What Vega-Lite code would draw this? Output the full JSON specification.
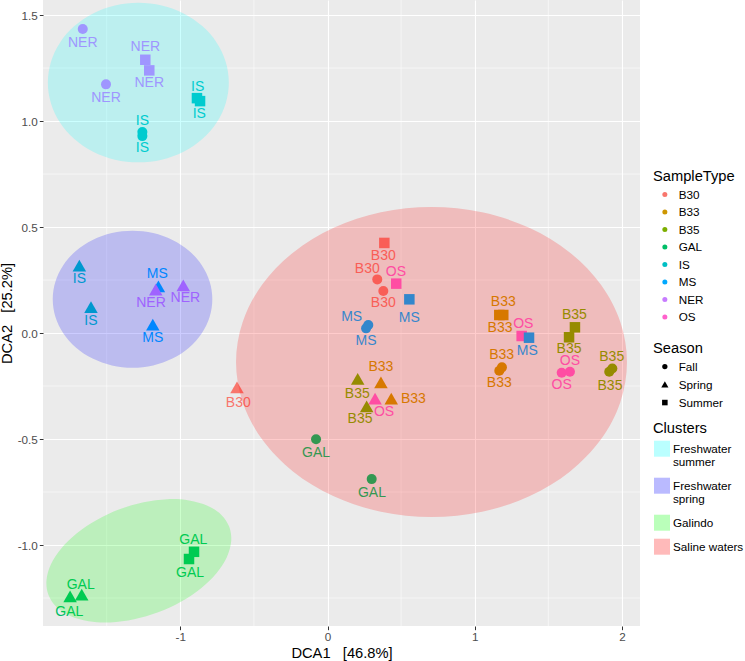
{
  "$schema": "https://vega.github.io/schema/vega-lite/v6.json",
  "width": 597,
  "height": 626,
  "autosize": {"type": "none"},
  "padding": {"left": 43, "top": 0, "right": 105, "bottom": 35},
  "background": "white",
  "config": {
    "font": "Liberation Sans",
    "view": {"fill": "#EBEBEB", "stroke": null},
    "axis": {
      "grid": true, "gridColor": "white", "gridWidth": 1.1, "domain": false,
      "tickColor": "#333333", "tickSize": 3.7, "tickWidth": 1,
      "labelColor": "#4D4D4D", "labelFontSize": 11.7, "labelPadding": 2,
      "titleFontSize": 14.7, "titleFontWeight": "normal", "titleColor": "black"
    },
    "legend": {
      "orient": "none", "padding": 0,
      "titleFontSize": 14.7, "titleFontWeight": "normal", "titleColor": "black", "titlePadding": 5,
      "labelFontSize": 11.7, "labelColor": "black", "rowPadding": 4.5
    }
  },
  "datasets": {
    "samples": [
      {"type": "NER", "season": "Fall", "x": -1.663, "y": 1.434, "lx": -1.663, "ly": 1.369},
      {"type": "NER", "season": "Fall", "x": -1.505, "y": 1.173, "lx": -1.505, "ly": 1.110},
      {"type": "NER", "season": "Summer", "x": -1.238, "y": 1.289, "lx": -1.238, "ly": 1.348},
      {"type": "NER", "season": "Summer", "x": -1.211, "y": 1.239, "lx": -1.211, "ly": 1.178},
      {"type": "IS", "season": "Summer", "x": -0.887, "y": 1.108, "lx": -0.882, "ly": 1.162},
      {"type": "IS", "season": "Summer", "x": -0.866, "y": 1.094, "lx": -0.871, "ly": 1.032},
      {"type": "IS", "season": "Fall", "x": -1.258, "y": 0.948, "lx": -1.258, "ly": 1.001},
      {"type": "IS", "season": "Fall", "x": -1.258, "y": 0.929, "lx": -1.258, "ly": 0.874},
      {"type": "IS", "season": "Spring", "x": -1.686, "y": 0.316, "lx": -1.686, "ly": 0.253},
      {"type": "IS", "season": "Spring", "x": -1.607, "y": 0.121, "lx": -1.607, "ly": 0.057},
      {"type": "MS", "season": "Spring", "x": -1.149, "y": 0.218, "lx": -1.156, "ly": 0.277},
      {"type": "NER", "season": "Spring", "x": -1.167, "y": 0.203, "lx": -1.199, "ly": 0.140},
      {"type": "NER", "season": "Spring", "x": -0.980, "y": 0.223, "lx": -0.966, "ly": 0.164},
      {"type": "MS", "season": "Spring", "x": -1.187, "y": 0.038, "lx": -1.187, "ly": -0.022},
      {"type": "B30", "season": "Summer", "x": 0.386, "y": 0.425, "lx": 0.379, "ly": 0.363},
      {"type": "B30", "season": "Fall", "x": 0.338, "y": 0.253, "lx": 0.270, "ly": 0.302},
      {"type": "B30", "season": "Fall", "x": 0.379, "y": 0.198, "lx": 0.379, "ly": 0.143},
      {"type": "OS", "season": "Summer", "x": 0.467, "y": 0.233, "lx": 0.465, "ly": 0.289},
      {"type": "MS", "season": "Summer", "x": 0.556, "y": 0.159, "lx": 0.556, "ly": 0.072},
      {"type": "MS", "season": "Fall", "x": 0.277, "y": 0.038, "lx": 0.164, "ly": 0.074},
      {"type": "MS", "season": "Fall", "x": 0.262, "y": 0.022, "lx": 0.262, "ly": -0.036},
      {"type": "B35", "season": "Spring", "x": 0.205, "y": -0.218, "lx": 0.202, "ly": -0.288},
      {"type": "B33", "season": "Spring", "x": 0.363, "y": -0.234, "lx": 0.363, "ly": -0.162},
      {"type": "OS", "season": "Spring", "x": 0.323, "y": -0.311, "lx": 0.384, "ly": -0.374},
      {"type": "B33", "season": "Spring", "x": 0.433, "y": -0.311, "lx": 0.583, "ly": -0.311},
      {"type": "B35", "season": "Spring", "x": 0.266, "y": -0.348, "lx": 0.221, "ly": -0.407},
      {"type": "GAL", "season": "Fall", "x": -0.078, "y": -0.501, "lx": -0.078, "ly": -0.565},
      {"type": "GAL", "season": "Fall", "x": 0.300, "y": -0.689, "lx": 0.302, "ly": -0.755},
      {"type": "B30", "season": "Spring", "x": -0.615, "y": -0.258, "lx": -0.606, "ly": -0.329},
      {"type": "B33", "season": "Summer", "x": 1.167, "y": 0.085, "lx": 1.172, "ly": 0.022},
      {"type": "B33", "season": "Summer", "x": 1.194, "y": 0.085, "lx": 1.194, "ly": 0.145},
      {"type": "OS", "season": "Summer", "x": 1.319, "y": -0.014, "lx": 1.330, "ly": 0.042},
      {"type": "MS", "season": "Summer", "x": 1.369, "y": -0.022, "lx": 1.357, "ly": -0.083},
      {"type": "B35", "season": "Summer", "x": 1.681, "y": 0.027, "lx": 1.677, "ly": 0.085},
      {"type": "B35", "season": "Summer", "x": 1.641, "y": -0.020, "lx": 1.641, "ly": -0.077},
      {"type": "OS", "season": "Fall", "x": 1.591, "y": -0.187, "lx": 1.591, "ly": -0.245},
      {"type": "OS", "season": "Fall", "x": 1.647, "y": -0.183, "lx": 1.647, "ly": -0.131},
      {"type": "B35", "season": "Fall", "x": 1.914, "y": -0.183, "lx": 1.919, "ly": -0.250},
      {"type": "B35", "season": "Fall", "x": 1.935, "y": -0.167, "lx": 1.931, "ly": -0.112},
      {"type": "B33", "season": "Fall", "x": 1.167, "y": -0.178, "lx": 1.167, "ly": -0.237},
      {"type": "B33", "season": "Fall", "x": 1.185, "y": -0.162, "lx": 1.183, "ly": -0.104},
      {"type": "GAL", "season": "Summer", "x": -0.907, "y": -1.032, "lx": -0.912, "ly": -0.976},
      {"type": "GAL", "season": "Summer", "x": -0.941, "y": -1.066, "lx": -0.934, "ly": -1.133},
      {"type": "GAL", "season": "Spring", "x": -1.749, "y": -1.244, "lx": -1.754, "ly": -1.315},
      {"type": "GAL", "season": "Spring", "x": -1.670, "y": -1.236, "lx": -1.677, "ly": -1.189}
    ],
    "ellipses": [
      {"cluster": "Freshwater summer", "i": 0, "x": -0.6705, "y": 1.1816},
      {"cluster": "Freshwater summer", "i": 1, "x": -0.6915, "y": 1.2790},
      {"cluster": "Freshwater summer", "i": 2, "x": -0.7529, "y": 1.3698},
      {"cluster": "Freshwater summer", "i": 3, "x": -0.8506, "y": 1.4478},
      {"cluster": "Freshwater summer", "i": 4, "x": -0.9779, "y": 1.5076},
      {"cluster": "Freshwater summer", "i": 5, "x": -1.1262, "y": 1.5452},
      {"cluster": "Freshwater summer", "i": 6, "x": -1.2853, "y": 1.5580},
      {"cluster": "Freshwater summer", "i": 7, "x": -1.4444, "y": 1.5452},
      {"cluster": "Freshwater summer", "i": 8, "x": -1.5927, "y": 1.5076},
      {"cluster": "Freshwater summer", "i": 9, "x": -1.7200, "y": 1.4478},
      {"cluster": "Freshwater summer", "i": 10, "x": -1.8177, "y": 1.3698},
      {"cluster": "Freshwater summer", "i": 11, "x": -1.8791, "y": 1.2790},
      {"cluster": "Freshwater summer", "i": 12, "x": -1.9001, "y": 1.1816},
      {"cluster": "Freshwater summer", "i": 13, "x": -1.8791, "y": 1.0842},
      {"cluster": "Freshwater summer", "i": 14, "x": -1.8177, "y": 0.9934},
      {"cluster": "Freshwater summer", "i": 15, "x": -1.7200, "y": 0.9154},
      {"cluster": "Freshwater summer", "i": 16, "x": -1.5927, "y": 0.8556},
      {"cluster": "Freshwater summer", "i": 17, "x": -1.4444, "y": 0.8180},
      {"cluster": "Freshwater summer", "i": 18, "x": -1.2853, "y": 0.8052},
      {"cluster": "Freshwater summer", "i": 19, "x": -1.1262, "y": 0.8180},
      {"cluster": "Freshwater summer", "i": 20, "x": -0.9779, "y": 0.8556},
      {"cluster": "Freshwater summer", "i": 21, "x": -0.8506, "y": 0.9154},
      {"cluster": "Freshwater summer", "i": 22, "x": -0.7529, "y": 0.9934},
      {"cluster": "Freshwater summer", "i": 23, "x": -0.6915, "y": 1.0842},
      {"cluster": "Freshwater spring", "i": 0, "x": -0.7826, "y": 0.1594},
      {"cluster": "Freshwater spring", "i": 1, "x": -0.8011, "y": 0.2430},
      {"cluster": "Freshwater spring", "i": 2, "x": -0.8552, "y": 0.3210},
      {"cluster": "Freshwater spring", "i": 3, "x": -0.9414, "y": 0.3879},
      {"cluster": "Freshwater spring", "i": 4, "x": -1.0536, "y": 0.4392},
      {"cluster": "Freshwater spring", "i": 5, "x": -1.1844, "y": 0.4715},
      {"cluster": "Freshwater spring", "i": 6, "x": -1.3247, "y": 0.4825},
      {"cluster": "Freshwater spring", "i": 7, "x": -1.4650, "y": 0.4715},
      {"cluster": "Freshwater spring", "i": 8, "x": -1.5958, "y": 0.4392},
      {"cluster": "Freshwater spring", "i": 9, "x": -1.7080, "y": 0.3879},
      {"cluster": "Freshwater spring", "i": 10, "x": -1.7942, "y": 0.3210},
      {"cluster": "Freshwater spring", "i": 11, "x": -1.8483, "y": 0.2430},
      {"cluster": "Freshwater spring", "i": 12, "x": -1.8668, "y": 0.1594},
      {"cluster": "Freshwater spring", "i": 13, "x": -1.8483, "y": 0.0758},
      {"cluster": "Freshwater spring", "i": 14, "x": -1.7942, "y": -0.0022},
      {"cluster": "Freshwater spring", "i": 15, "x": -1.7080, "y": -0.0691},
      {"cluster": "Freshwater spring", "i": 16, "x": -1.5958, "y": -0.1204},
      {"cluster": "Freshwater spring", "i": 17, "x": -1.4650, "y": -0.1527},
      {"cluster": "Freshwater spring", "i": 18, "x": -1.3247, "y": -0.1637},
      {"cluster": "Freshwater spring", "i": 19, "x": -1.1844, "y": -0.1527},
      {"cluster": "Freshwater spring", "i": 20, "x": -1.0536, "y": -0.1204},
      {"cluster": "Freshwater spring", "i": 21, "x": -0.9414, "y": -0.0691},
      {"cluster": "Freshwater spring", "i": 22, "x": -0.8552, "y": -0.0022},
      {"cluster": "Freshwater spring", "i": 23, "x": -0.8011, "y": 0.0758},
      {"cluster": "Galindo", "i": 0, "x": -0.6676, "y": -0.9142},
      {"cluster": "Galindo", "i": 1, "x": -0.7225, "y": -0.8568},
      {"cluster": "Galindo", "i": 2, "x": -0.8157, "y": -0.8142},
      {"cluster": "Galindo", "i": 3, "x": -0.9405, "y": -0.7894},
      {"cluster": "Galindo", "i": 4, "x": -1.0886, "y": -0.7840},
      {"cluster": "Galindo", "i": 5, "x": -1.2499, "y": -0.7985},
      {"cluster": "Galindo", "i": 6, "x": -1.4134, "y": -0.8316},
      {"cluster": "Galindo", "i": 7, "x": -1.5678, "y": -0.8814},
      {"cluster": "Galindo", "i": 8, "x": -1.7030, "y": -0.9443},
      {"cluster": "Galindo", "i": 9, "x": -1.8092, "y": -1.0161},
      {"cluster": "Galindo", "i": 10, "x": -1.8797, "y": -1.0919},
      {"cluster": "Galindo", "i": 11, "x": -1.9093, "y": -1.1664},
      {"cluster": "Galindo", "i": 12, "x": -1.8962, "y": -1.2348},
      {"cluster": "Galindo", "i": 13, "x": -1.8413, "y": -1.2922},
      {"cluster": "Galindo", "i": 14, "x": -1.7481, "y": -1.3348},
      {"cluster": "Galindo", "i": 15, "x": -1.6233, "y": -1.3596},
      {"cluster": "Galindo", "i": 16, "x": -1.4752, "y": -1.3650},
      {"cluster": "Galindo", "i": 17, "x": -1.3139, "y": -1.3505},
      {"cluster": "Galindo", "i": 18, "x": -1.1504, "y": -1.3174},
      {"cluster": "Galindo", "i": 19, "x": -0.9960, "y": -1.2676},
      {"cluster": "Galindo", "i": 20, "x": -0.8608, "y": -1.2047},
      {"cluster": "Galindo", "i": 21, "x": -0.7546, "y": -1.1329},
      {"cluster": "Galindo", "i": 22, "x": -0.6841, "y": -1.0571},
      {"cluster": "Galindo", "i": 23, "x": -0.6545, "y": -0.9826},
      {"cluster": "Saline waters", "i": 0, "x": 2.0346, "y": -0.1368},
      {"cluster": "Saline waters", "i": 1, "x": 1.9893, "y": 0.0524},
      {"cluster": "Saline waters", "i": 2, "x": 1.8566, "y": 0.2288},
      {"cluster": "Saline waters", "i": 3, "x": 1.6456, "y": 0.3802},
      {"cluster": "Saline waters", "i": 4, "x": 1.3706, "y": 0.4963},
      {"cluster": "Saline waters", "i": 5, "x": 1.0502, "y": 0.5694},
      {"cluster": "Saline waters", "i": 6, "x": 0.7065, "y": 0.5943},
      {"cluster": "Saline waters", "i": 7, "x": 0.3628, "y": 0.5694},
      {"cluster": "Saline waters", "i": 8, "x": 0.0424, "y": 0.4963},
      {"cluster": "Saline waters", "i": 9, "x": -0.2326, "y": 0.3802},
      {"cluster": "Saline waters", "i": 10, "x": -0.4436, "y": 0.2288},
      {"cluster": "Saline waters", "i": 11, "x": -0.5763, "y": 0.0524},
      {"cluster": "Saline waters", "i": 12, "x": -0.6216, "y": -0.1368},
      {"cluster": "Saline waters", "i": 13, "x": -0.5763, "y": -0.3260},
      {"cluster": "Saline waters", "i": 14, "x": -0.4436, "y": -0.5024},
      {"cluster": "Saline waters", "i": 15, "x": -0.2326, "y": -0.6538},
      {"cluster": "Saline waters", "i": 16, "x": 0.0424, "y": -0.7699},
      {"cluster": "Saline waters", "i": 17, "x": 0.3628, "y": -0.8430},
      {"cluster": "Saline waters", "i": 18, "x": 0.7065, "y": -0.8679},
      {"cluster": "Saline waters", "i": 19, "x": 1.0502, "y": -0.8430},
      {"cluster": "Saline waters", "i": 20, "x": 1.3706, "y": -0.7699},
      {"cluster": "Saline waters", "i": 21, "x": 1.6456, "y": -0.6538},
      {"cluster": "Saline waters", "i": 22, "x": 1.8566, "y": -0.5024},
      {"cluster": "Saline waters", "i": 23, "x": 1.9893, "y": -0.3260}
    ],
    "minorX": [{"v": -1.5}, {"v": -0.5}, {"v": 0.5}, {"v": 1.5}],
    "minorY": [{"v": -1.25}, {"v": -0.75}, {"v": -0.25}, {"v": 0.25}, {"v": 0.75}, {"v": 1.25}]
  },
  "layer": [
    {
      "data": {"name": "minorX"},
      "mark": {"type": "rule", "color": "white", "strokeWidth": 0.55},
      "encoding": {
        "x": {"field": "v", "type": "quantitative", "scale": {"domain": [-1.933, 2.123], "nice": false, "zero": false},
              "axis": {"values": [-1, 0, 1, 2], "format": ".0f", "title": "DCA1\u00a0\u00a0\u00a0[46.8%]", "titlePadding": 2, "labelExpr": "replace(datum.label, '\u2212', '-')"}}
      }
    },
    {
      "data": {"name": "minorY"},
      "mark": {"type": "rule", "color": "white", "strokeWidth": 0.55},
      "encoding": {
        "y": {"field": "v", "type": "quantitative", "scale": {"domain": [-1.382, 1.571], "nice": false, "zero": false},
              "axis": {"values": [-1, -0.5, 0, 0.5, 1, 1.5], "format": ".1f", "title": "DCA2\u00a0\u00a0\u00a0[25.2%]", "titlePadding": 3, "labelExpr": "replace(datum.label, '\u2212', '-')"}}
      }
    },
    {
      "data": {"name": "samples"},
      "mark": {"type": "point", "filled": true, "opacity": 1, "strokeWidth": 0, "size": 100},
      "encoding": {
        "x": {"field": "x", "type": "quantitative", "scale": {"domain": [-1.933, 2.123], "nice": false, "zero": false}},
        "y": {"field": "y", "type": "quantitative", "scale": {"domain": [-1.382, 1.571], "nice": false, "zero": false}},
        "color": {"field": "type", "type": "nominal",
                  "scale": {"domain": ["B30", "B33", "B35", "GAL", "IS", "MS", "NER", "OS"],
                            "range": ["#F8766D", "#CD9600", "#7CAE00", "#00BE67", "#00BFC4", "#00A9FF", "#C77CFF", "#FF61CC"]},
                  "legend": {"title": "SampleType", "legendX": 610, "legendY": 169, "symbolType": "circle", "symbolSize": 25, "symbolStrokeWidth": 0, "symbolOffset": 6, "labelOffset": 8}},
        "shape": {"field": "season", "type": "nominal",
                  "scale": {"domain": ["Fall", "Spring", "Summer"],
                            "range": ["circle", "M0,-1.25L1.35,1.1L-1.35,1.1Z", "M-1.05,-1.05H1.05V1.05H-1.05Z"]},
                  "legend": {"title": "Season", "legendX": 610, "legendY": 341, "symbolSize": 28, "symbolFillColor": "black", "symbolStrokeWidth": 0, "symbolOffset": 6, "labelOffset": 8, "rowPadding": 5}}
      }
    },
    {
      "data": {"name": "samples"},
      "mark": {"type": "text", "fontSize": 14, "font": "Liberation Sans", "baseline": "middle", "align": "center"},
      "encoding": {
        "x": {"field": "lx", "type": "quantitative", "scale": {"domain": [-1.933, 2.123], "nice": false, "zero": false}},
        "y": {"field": "ly", "type": "quantitative", "scale": {"domain": [-1.382, 1.571], "nice": false, "zero": false}},
        "text": {"field": "type"},
        "color": {"field": "type", "type": "nominal"}
      }
    },
    {
      "data": {"name": "ellipses"},
      "mark": {"type": "line", "interpolate": "cardinal-closed", "strokeWidth": 0, "fillOpacity": 0.2},
      "encoding": {
        "x": {"field": "x", "type": "quantitative", "scale": {"domain": [-1.933, 2.123], "nice": false, "zero": false}},
        "y": {"field": "y", "type": "quantitative", "scale": {"domain": [-1.382, 1.571], "nice": false, "zero": false}},
        "order": {"field": "i", "type": "quantitative"},
        "fill": {"field": "cluster", "type": "nominal",
                 "scale": {"domain": ["Freshwater summer", "Freshwater spring", "Galindo", "Saline waters"],
                           "range": ["#00FFFF", "#0000FF", "#00FF00", "#FF0000"]},
                 "legend": {"title": "Clusters", "legendX": 610, "legendY": 421, "symbolType": "square", "symbolSize": 256, "symbolOpacity": 0.27, "symbolStrokeWidth": 0, "symbolOffset": 1, "labelOffset": 3, "rowPadding": 8,
                            "labelExpr": "datum.label == 'Saline waters' ? datum.label : split(datum.label, ' ')"}}
      }
    }
  ]
}
